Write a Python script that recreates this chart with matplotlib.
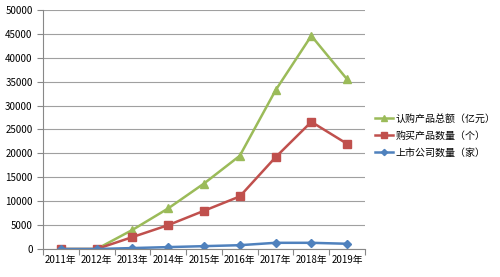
import matplotlib
matplotlib.use("Agg")
import matplotlib.pyplot as plt
import numpy as np

plt.rcParams['font.family'] = ['Noto Sans CJK SC', 'DejaVu Sans']

years = ['2011年', '2012年', '2013年', '2014年', '2015年', '2016年', '2017年', '2018年', '2019年']
total_amount = [0, 0, 4000, 8500, 13700, 19500, 33200, 44600, 35500]
products = [0, 0, 2500, 5000, 8000, 11000, 19200, 26600, 22000]
companies = [0, 0, 200, 400, 600, 800, 1300, 1300, 1100]

fig = plt.figure(figsize=(5, 2.77), dpi=100)
ax = fig.add_axes([0.086, 0.101, 0.644, 0.863])

x = np.arange(len(years)) + 0.5
ax.plot(x, total_amount, color='#9BBB59', marker='^', markersize=6, lw=1.8, label='认购产品总额（亿元）')
ax.plot(x, products, color='#C0504D', marker='s', markersize=6, lw=1.8, label='购买产品数量（个）')
ax.plot(x, companies, color='#4F81BD', marker='D', markersize=4.5, lw=1.8, label='上市公司数量（家）')

ax.set_xlim(0, len(years))
ax.set_ylim(0, 50000)
ax.set_yticks(range(0, 50001, 5000))
ax.set_xticks(np.arange(len(years) + 1), minor=False)
ax.set_xticklabels([])
ax.set_xticks(x, minor=True)
ax.set_xticklabels(years, minor=True)
ax.tick_params(axis='x', which='minor', length=0, labelsize=7, pad=4)
ax.tick_params(axis='x', which='major', length=4, color='#888888', direction='out')
ax.tick_params(axis='y', length=4, color='#888888', labelsize=7, direction='out')

ax.grid(axis='y', color='#A0A0A0', lw=0.8)
ax.set_axisbelow(True)
for s in ['top', 'right']:
    ax.spines[s].set_visible(False)
for s in ['left', 'bottom']:
    ax.spines[s].set_color('#888888')

fig.legend(loc='center left', bbox_to_anchor=(0.745, 0.51), frameon=False, fontsize=7.2,
           handlelength=1.8, handletextpad=0.3, labelspacing=0.7, markerscale=0.7,
           borderpad=0.1, borderaxespad=0.1)

fig.savefig('out.png', dpi=100)
